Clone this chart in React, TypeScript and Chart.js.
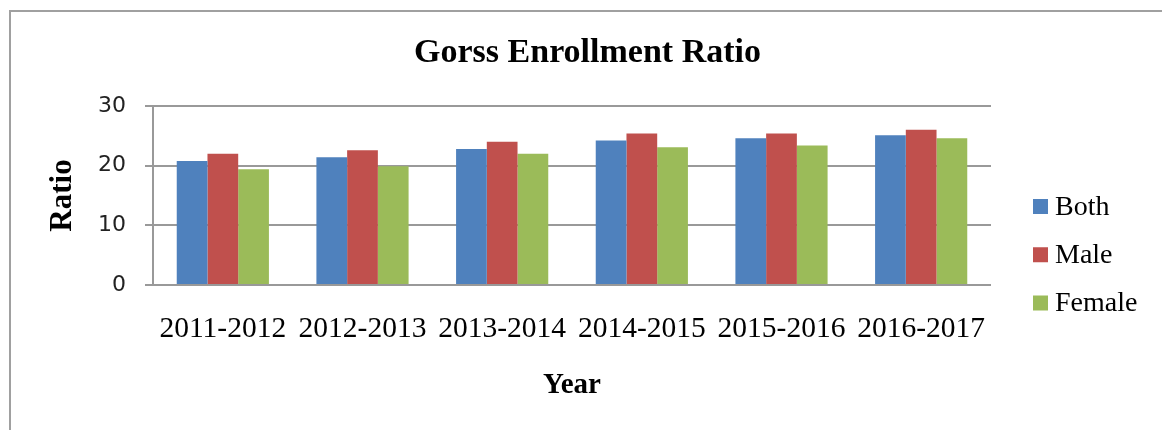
import React, { useEffect, useRef } from "react";
import { Chart, registerables } from "chart.js";

Chart.register(...registerables);

const categories = ["2011-2012", "2012-2013", "2013-2014", "2014-2015", "2015-2016", "2016-2017"];
const bothValues = [20.8, 21.4, 22.8, 24.2, 24.6, 25.1];
const maleValues = [22.0, 22.6, 24.0, 25.4, 25.4, 26.0];
const femaleValues = [19.4, 19.9, 22.0, 23.1, 23.4, 24.6];
const seriesNames = ["Both", "Male", "Female"];
const seriesColors = ["#4F81BD", "#C0504D", "#9BBB59"];
const yTicks = [0, 10, 20, 30];

const chartTitle = "Gorss Enrollment Ratio";
const xTitle = "Year";
const yTitle = "Ratio";

const W = 1154;
const H = 422;
const SERIF = "'Liberation Serif', 'Times New Roman', serif";
const SANS = "'DejaVu Sans', Verdana, sans-serif";

const sideLegend = {
  id: "sideLegend",
  afterDraw(chart: any) {
    const { ctx, chartArea } = chart;
    ctx.save();
    ctx.font = `28px ${SERIF}`;
    ctx.textBaseline = "middle";
    ctx.textAlign = "left";
    chart.data.datasets.forEach((ds: any, i: number) => {
      const cy = chartArea.top + 100.5 + i * 48.25;
      const bx = chartArea.right + 42;
      ctx.fillStyle = ds.backgroundColor;
      ctx.fillRect(bx, cy - 7.5, 15, 15);
      ctx.fillStyle = "#000";
      ctx.fillText(ds.label, bx + 22, cy + 1);
    });
    ctx.restore();
  },
};

export default function App() {
  const canvasRef = useRef<HTMLCanvasElement | null>(null);

  useEffect(() => {
    if (!canvasRef.current) return;
    const values = [bothValues, maleValues, femaleValues];
    const chart = new Chart(canvasRef.current, {
      type: "bar",
      data: {
        labels: categories,
        datasets: seriesNames.map((name, i) => ({
          label: name,
          data: values[i],
          backgroundColor: seriesColors[i],
          borderWidth: 0,
          categoryPercentage: 0.66,
          barPercentage: 1,
          yAxisID: "y",
        })),
      },
      plugins: [sideLegend],
      options: {
        responsive: false,
        animation: false,
        devicePixelRatio: 1,
        layout: { padding: { left: 5, right: 0, top: 0, bottom: 0 } },
        plugins: {
          legend: { display: false },
          tooltip: { enabled: false },
          title: {
            display: true,
            text: chartTitle,
            color: "#000",
            font: { family: SERIF, size: 34, weight: "bold", lineHeight: 1.2 },
            padding: { top: 25, bottom: 32.2 },
          },
        },
        scales: {
          x: {
            grid: { display: false, drawTicks: false },
            border: { display: false },
            ticks: {
              color: "#000",
              font: { family: SERIF, size: 29.5, lineHeight: 1.2 },
              padding: 27,
              maxRotation: 0,
              minRotation: 0,
              autoSkip: false,
            },
            title: {
              display: true,
              text: xTitle,
              color: "#000",
              font: { family: SERIF, size: 29, weight: "bold", lineHeight: 1.2 },
              padding: { top: 0, bottom: 27 },
            },
            afterFit: (s: any) => {
              s.height = 145;
            },
          },
          y: {
            min: 0,
            max: 30,
            ticks: {
              stepSize: 10,
              color: "#222",
              font: { family: SANS, size: 22 },
              padding: 19,
            },
            afterBuildTicks: (s: any) => {
              s.ticks = yTicks.map((v) => ({ value: v }));
            },
            grid: { color: "#999", lineWidth: 2, tickLength: 8, drawTicks: true },
            border: { display: true, color: "#999", width: 2 },
            title: {
              display: true,
              text: yTitle,
              color: "#000",
              font: { family: SERIF, size: 31, weight: "bold", lineHeight: 1.2 },
              padding: { top: 31.4, bottom: 0 },
            },
            afterFit: (s: any) => {
              s.width = 140;
            },
          },
          legendSpace: {
            type: "linear",
            position: "right",
            display: true,
            grid: { display: false, drawTicks: false },
            border: { display: false },
            ticks: { display: false },
            afterFit: (s: any) => {
              s.width = 171;
            },
          },
        },
      } as any,
    });
    return () => chart.destroy();
  }, []);

  return (
    <div
      style={{
        position: "fixed",
        left: 8,
        top: 8,
        width: W,
        height: H,
        overflow: "hidden",
        background: "#fff",
      }}
    >
      <div
        style={{
          position: "absolute",
          left: 1,
          top: 2,
          width: 1300,
          height: 600,
          borderTop: "2px solid #a0a0a0",
          borderLeft: "2px solid #a0a0a0",
        }}
      />
      <canvas
        ref={canvasRef}
        width={W}
        height={H}
        style={{ position: "absolute", left: 0, top: 0, width: W, height: H }}
      />
    </div>
  );
}
